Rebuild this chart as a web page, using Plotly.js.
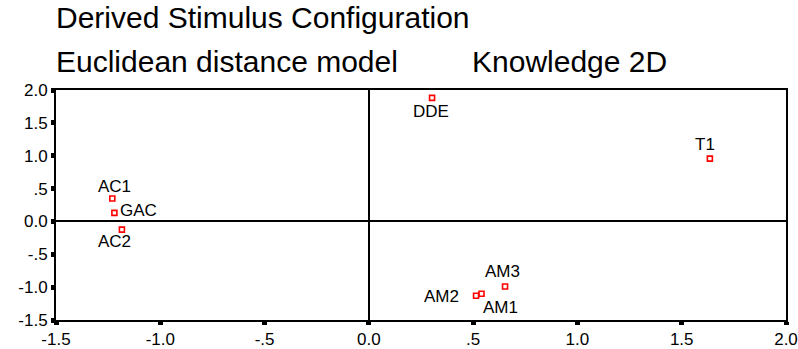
<!DOCTYPE html>
<html><head><meta charset="utf-8">
<script src="https://cdn.plot.ly/plotly-3.0.1.min.js"></script>
<style>html,body{margin:0;padding:0;background:#fff}</style>
</head><body>
<div id="chart" style="width:798px;height:349px"></div>
<script>
const labels = ["AC1","GAC","AC2","DDE","T1","AM3","AM1","AM2"];
const dim1 = [-1.23,-1.22,-1.184,0.303,1.635,0.653,0.54,0.514];
const dim2 = [0.35,0.13,-0.125,1.88,0.955,-0.99,-1.10,-1.13];
const tickVals = [-1.5,-1.0,-0.5,0.0,0.5,1.0,1.5,2.0];
const xTickText = ["-1.5","-1.0","-.5","0.0",".5","1.0","1.5","2.0"];
const yTickText = ["-1.5","-1.0","-.5","0.0",".5","1.0","1.5","2.0"];

// label placement (pixel offsets of each label from its point) - layout config
const labelShiftX = [2, 24, -7, -1, -5, -3, 19, -35];
const labelShiftY = [12, 2, -12, -14, 14, 15, -14, -1];

const font = "Liberation Sans, Arial, sans-serif";
const trace = {
  x: dim1, y: dim2, mode: "markers", type: "scatter",
  marker: {symbol: "square-open", size: 5, color: "#ff0000", line: {width: 1.6, color: "#ff0000"}},
  cliponaxis: false, hoverinfo: "none"
};
const axisCommon = {
  showgrid: false, zeroline: true, zerolinecolor: "#000", zerolinewidth: 2,
  showline: true, linecolor: "#000", linewidth: 2, mirror: true,
  ticks: "outside", ticklen: 3, tickwidth: 5, tickcolor: "#000",
  tickfont: {family: font, size: 17, color: "#000"},
  tickmode: "array"
};
const pointLabels = labels.map((t, i) => ({
  text: t, x: dim1[i], y: dim2[i], xref: "x", yref: "y",
  xanchor: "center", yanchor: "middle", showarrow: false,
  xshift: labelShiftX[i], yshift: labelShiftY[i],
  font: {family: font, size: 17, color: "#000"}
}));
const titleFont = {family: font, size: 30, color: "#000"};
const layout = {
  width: 798, height: 349,
  margin: {l: 56, r: 12, t: 90, b: 29},
  paper_bgcolor: "#fff", plot_bgcolor: "#fff",
  showlegend: false,
  xaxis: Object.assign({}, axisCommon, {range: [-1.5, 2.0], tickvals: tickVals, ticktext: xTickText}),
  yaxis: Object.assign({}, axisCommon, {range: [-1.5, 2.0], tickvals: tickVals, ticktext: yTickText}),
  annotations: [
    {text: "Derived Stimulus Configuration", xref: "paper", yref: "paper", x: 0, y: 1, xshift: -2, yshift: 73, xanchor: "left", yanchor: "middle", showarrow: false, font: titleFont},
    {text: "Euclidean distance model", xref: "paper", yref: "paper", x: 0, y: 1, xshift: -2, yshift: 29, xanchor: "left", yanchor: "middle", showarrow: false, font: titleFont},
    {text: "Knowledge 2D", xref: "paper", yref: "paper", x: 0, y: 1, xshift: 414, yshift: 29, xanchor: "left", yanchor: "middle", showarrow: false, font: titleFont}
  ].concat(pointLabels)
};
Plotly.newPlot("chart", [trace], layout, {displayModeBar: false, staticPlot: true});
</script>
</body></html>
